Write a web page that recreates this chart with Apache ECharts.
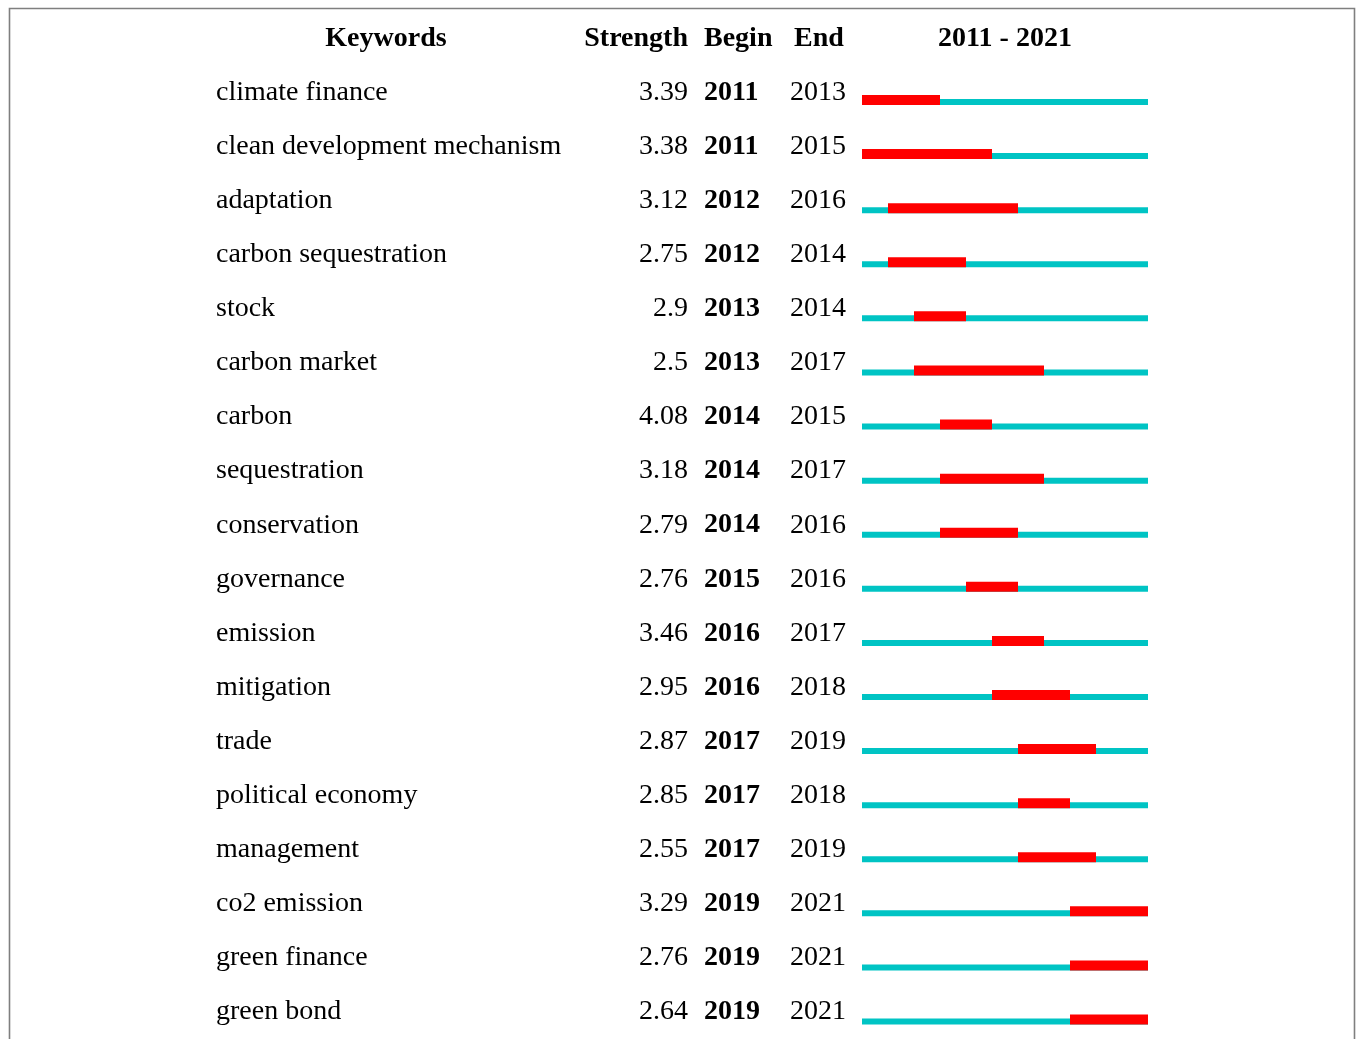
<!DOCTYPE html>
<html>
<head>
<meta charset="utf-8">
<title>Keywords with the strongest citation bursts</title>
<script src="https://cdn.jsdelivr.net/npm/echarts@6/dist/echarts.min.js"></script>
<style>
  html, body { margin: 0; padding: 0; background: #ffffff; }
  #chart { width: 1357px; height: 1039px; }
</style>
</head>
<body>
<div id="chart"></div>
<script>
// Burst keywords, their strength and burst period
const keywords = [
  'climate finance', 'clean development mechanism', 'adaptation', 'carbon sequestration',
  'stock', 'carbon market', 'carbon', 'sequestration', 'conservation', 'governance',
  'emission', 'mitigation', 'trade', 'political economy', 'management', 'co2 emission',
  'green finance', 'green bond'
];
const strength = [3.39, 3.38, 3.12, 2.75, 2.9, 2.5, 4.08, 3.18, 2.79, 2.76, 3.46, 2.95, 2.87, 2.85, 2.55, 3.29, 2.76, 2.64];
const beginYear = [2011, 2011, 2012, 2012, 2013, 2013, 2014, 2014, 2014, 2015, 2016, 2016, 2017, 2017, 2017, 2019, 2019, 2019];
const endYear = [2013, 2015, 2016, 2014, 2014, 2017, 2015, 2017, 2016, 2016, 2017, 2018, 2019, 2018, 2019, 2021, 2021, 2021];
const firstYear = 2011;
const lastYear = 2021;
const headers = ['Keywords', 'Strength', 'Begin', 'End'];

const FONT = '"Liberation Serif", "Times New Roman", serif';
const SIZE = 28;
const RED = '#ff0000';
const CYAN = '#00c4c4';

// column anchors (px)
const COL_KEY = 216, COL_KEY_HEAD = 386, COL_STR = 688, COL_BEGIN = 704, COL_END = 790, COL_END_HEAD = 794;
const TEXT_SHIFT = -7.5; // text middle sits above the bar centre
const ROW_STEP = 54.09;  // px per row
const Y_MIN = -1, Y_MAX = 17.2; // row -1 holds the header

const rows = keywords.map((k, i) => [i, beginYear[i], endYear[i], strength[i]]);

const chart = echarts.init(document.getElementById('chart'), null, { renderer: 'canvas' });

function textEl(str, x, y, bold, align) {
  return {
    type: 'text',
    style: {
      text: str, x: x, y: y,
      font: (bold ? 'bold ' : '') + SIZE + 'px ' + FONT,
      fill: '#000000',
      textAlign: align,
      textVerticalAlign: 'middle'
    }
  };
}

const option = {
  animation: false,
  backgroundColor: '#ffffff',
  grid: { left: 862, right: 209, top: 100 - ROW_STEP, height: (Y_MAX - Y_MIN) * ROW_STEP },
  xAxis: { type: 'value', min: firstYear, max: lastYear + 1, show: false },
  yAxis: { type: 'value', min: Y_MIN, max: Y_MAX, inverse: true, show: false },
  graphic: [
    {
      type: 'rect',
      shape: { x: 9.5, y: 8.5, width: 1345, height: 1200 },
      style: { fill: 'none', stroke: '#7f7f7f', lineWidth: 1.6 },
      silent: true
    }
  ],
  series: [
    {
      // header row
      type: 'custom',
      data: [[-1]],
      encode: { y: 0 },
      renderItem: function (params, api) {
        const y = api.coord([firstYear, -1])[1] + TEXT_SHIFT + 0.5;
        const xa = api.coord([firstYear, -1])[0];
        const xb = api.coord([lastYear + 1, -1])[0];
        return {
          type: 'group',
          children: [
            textEl(headers[0], COL_KEY_HEAD, y, true, 'center'),
            textEl(headers[1], COL_STR, y, true, 'right'),
            textEl(headers[2], COL_BEGIN, y, true, 'left'),
            textEl(headers[3], COL_END_HEAD, y, true, 'left'),
            textEl(firstYear + ' - ' + lastYear, (xa + xb) / 2, y, true, 'center')
          ]
        };
      }
    },
    {
      // table text for every keyword row
      type: 'custom',
      data: rows,
      encode: { y: 0 },
      renderItem: function (params, api) {
        const i = api.value(0);
        const y = api.coord([firstYear, i])[1] + TEXT_SHIFT;
        return {
          type: 'group',
          children: [
            textEl(keywords[i], COL_KEY, y, false, 'left'),
            textEl(String(strength[i]), COL_STR, y, false, 'right'),
            textEl(String(beginYear[i]), COL_BEGIN, y, true, 'left'),
            textEl(String(endYear[i]), COL_END, y, false, 'left')
          ]
        };
      }
    },
    {
      // timeline: cyan full span with the red burst period on top
      type: 'custom',
      data: rows,
      encode: { x: [1, 2], y: 0 },
      renderItem: function (params, api) {
        const i = api.value(0);
        const start = api.coord([firstYear, i]);
        const stop = api.coord([lastYear + 1, i]);
        const b0 = api.coord([api.value(1), i]);
        const b1 = api.coord([api.value(2) + 1, i]);
        const cy = start[1];
        return {
          type: 'group',
          children: [
            { type: 'rect', shape: { x: start[0], y: cy - 1, width: stop[0] - start[0], height: 6 }, style: { fill: CYAN } },
            { type: 'rect', shape: { x: b0[0], y: cy - 5, width: b1[0] - b0[0], height: 10 }, style: { fill: RED } }
          ]
        };
      }
    }
  ]
};

chart.setOption(option);
</script>
</body>
</html>
